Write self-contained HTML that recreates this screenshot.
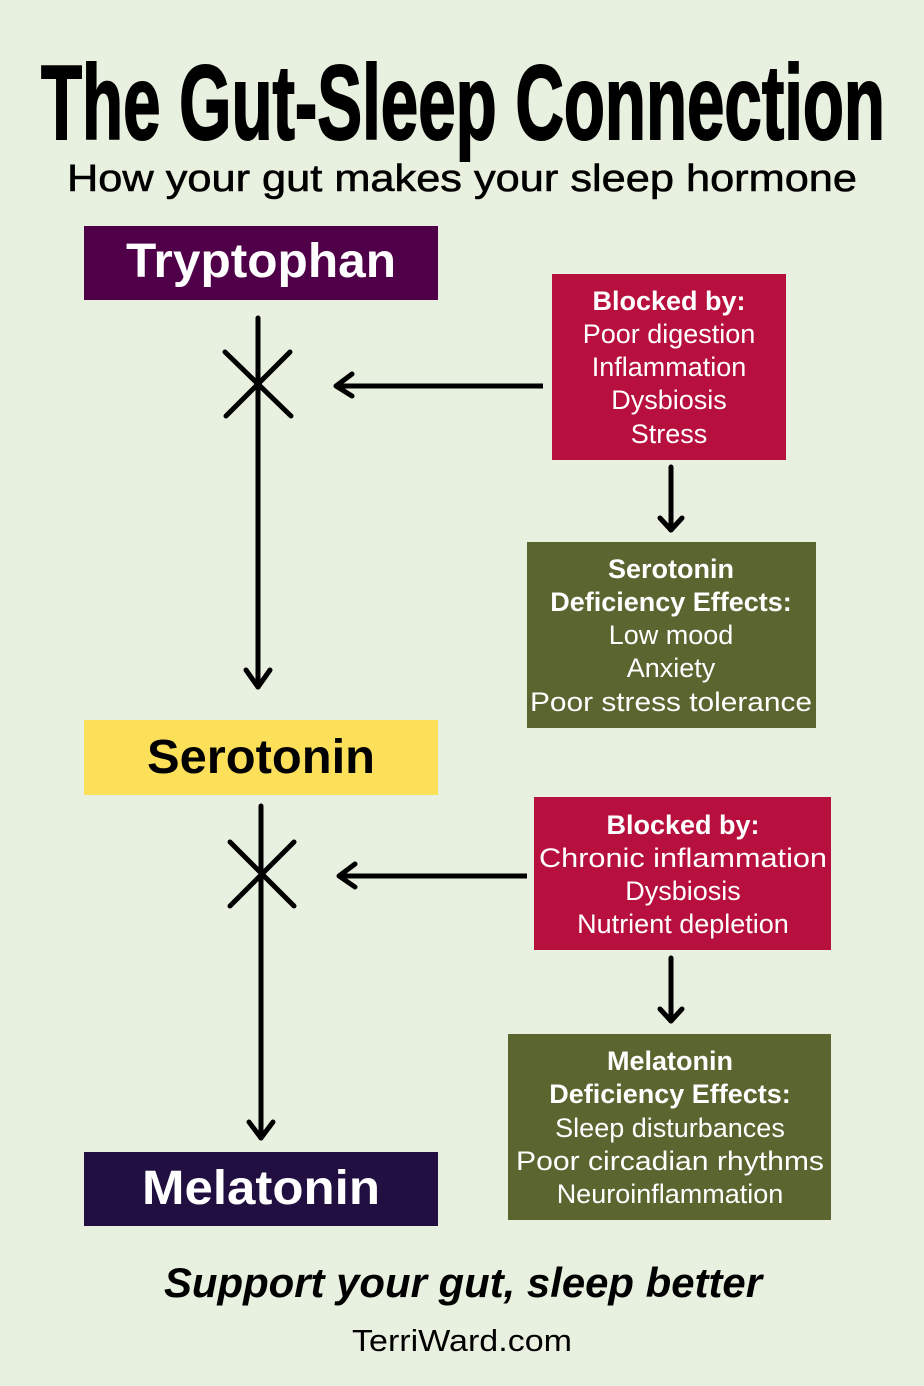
<!DOCTYPE html>
<html><head><meta charset="utf-8"><style>
html,body{margin:0;padding:0;background:#e8f0e0;}
svg{display:block}
text{font-family:"Liberation Sans",sans-serif;}
</style></head><body>
<svg width="924" height="1386" viewBox="0 0 924 1386" xmlns="http://www.w3.org/2000/svg">
<rect width="924" height="1386" fill="#e8f0e0"/>
<text x="41" y="139" font-size="106" font-weight="bold" textLength="844" lengthAdjust="spacingAndGlyphs" fill="#000" stroke="#000" stroke-width="2">The Gut-Sleep Connection</text>
<text x="462" y="191" font-size="38" text-anchor="middle" textLength="790" lengthAdjust="spacingAndGlyphs" fill="#000" stroke="#000" stroke-width="0.6">How your gut makes your sleep hormone</text>

<rect x="84" y="226" width="354" height="74" fill="#4f0048"/>
<text x="261" y="277" font-size="48" font-weight="bold" text-anchor="middle" fill="#fff" textLength="270" lengthAdjust="spacingAndGlyphs">Tryptophan</text>
<rect x="84" y="720" width="354" height="75" fill="#fde05a"/>
<text x="261" y="773" font-size="48" font-weight="bold" text-anchor="middle" fill="#000" textLength="228" lengthAdjust="spacingAndGlyphs">Serotonin</text>
<rect x="84" y="1152" width="354" height="74" fill="#200f40"/>
<text x="261" y="1204" font-size="48" font-weight="bold" text-anchor="middle" fill="#fff" textLength="238" lengthAdjust="spacingAndGlyphs">Melatonin</text>

<g stroke="#000" stroke-width="5" fill="none" stroke-linecap="round" stroke-linejoin="round">
<line x1="258" y1="318" x2="258" y2="687"/>
<polyline points="246,670 258,687 270,670"/>
<line x1="225" y1="352" x2="291" y2="416"/>
<line x1="226" y1="416" x2="290" y2="352"/>
<line x1="543" y1="386" x2="336" y2="386" stroke-linecap="butt"/>
<polyline points="352,374 336,386 352,396"/>
<line x1="671" y1="467" x2="671" y2="530"/>
<polyline points="660,518 671,530 682,518"/>

<line x1="261" y1="806" x2="261" y2="1138"/>
<polyline points="249,1122 261,1138 273,1122"/>
<line x1="230" y1="842" x2="294" y2="906"/>
<line x1="230" y1="906" x2="294" y2="842"/>
<line x1="527" y1="876" x2="339" y2="876" stroke-linecap="butt"/>
<polyline points="355,864 339,876 355,887"/>
<line x1="671" y1="958" x2="671" y2="1021"/>
<polyline points="660,1009 671,1021 682,1009"/>
</g>

<rect x="552" y="274" width="234" height="186" fill="#b8103e"/>
<g fill="#fff" font-size="27" text-anchor="middle">
<text x="669" y="310" font-weight="bold">Blocked by:</text>
<text x="669" y="343">Poor digestion</text>
<text x="669" y="376">Inflammation</text>
<text x="669" y="409">Dysbiosis</text>
<text x="669" y="443">Stress</text>
</g>
<rect x="527" y="542" width="289" height="186" fill="#5a6530"/>
<g fill="#fff" font-size="27" text-anchor="middle">
<text x="671" y="578" font-weight="bold">Serotonin</text>
<text x="671" y="611" font-weight="bold">Deficiency Effects:</text>
<text x="671" y="644">Low mood</text>
<text x="671" y="677">Anxiety</text>
<text x="671" y="711" textLength="282" lengthAdjust="spacingAndGlyphs">Poor stress tolerance</text>
</g>
<rect x="534" y="797" width="297" height="153" fill="#b8103e"/>
<g fill="#fff" font-size="27" text-anchor="middle">
<text x="683" y="834" font-weight="bold">Blocked by:</text>
<text x="683" y="867" textLength="288" lengthAdjust="spacingAndGlyphs">Chronic inflammation</text>
<text x="683" y="900">Dysbiosis</text>
<text x="683" y="933">Nutrient depletion</text>
</g>
<rect x="508" y="1034" width="323" height="186" fill="#5a6530"/>
<g fill="#fff" font-size="27" text-anchor="middle">
<text x="670" y="1070" font-weight="bold">Melatonin</text>
<text x="670" y="1103" font-weight="bold">Deficiency Effects:</text>
<text x="670" y="1137">Sleep disturbances</text>
<text x="670" y="1170" textLength="308" lengthAdjust="spacingAndGlyphs">Poor circadian rhythms</text>
<text x="670" y="1203">Neuroinflammation</text>
</g>

<text x="463" y="1297" font-size="42" font-weight="bold" font-style="italic" text-anchor="middle" textLength="598" lengthAdjust="spacingAndGlyphs" fill="#000">Support your gut, sleep better</text>
<text x="462" y="1351" font-size="31" text-anchor="middle" textLength="220" lengthAdjust="spacingAndGlyphs" fill="#000">TerriWard.com</text>
</svg>
</body></html>
